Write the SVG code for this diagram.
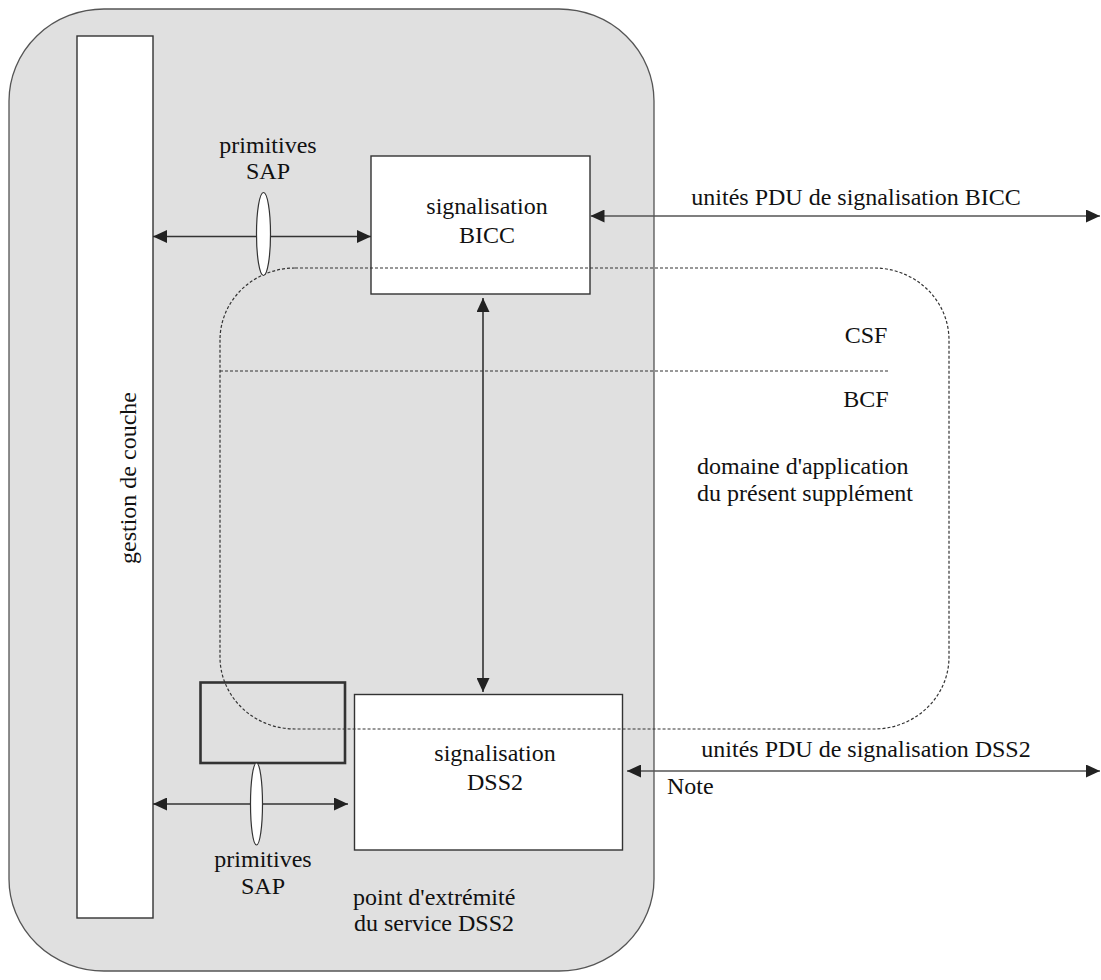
<svg xmlns="http://www.w3.org/2000/svg" width="1101" height="980" viewBox="0 0 1101 980">
<style>
text{font-family:"Liberation Serif","Times New Roman",serif;font-size:24px;fill:#111}
.box{fill:#fff;stroke:#333;stroke-width:1.4}
.dot{fill:none;stroke:#333;stroke-width:1.2;stroke-dasharray:3 2}
.conn{stroke:#333;stroke-width:1.6;fill:none}
.ext{stroke:#555;stroke-width:1.6;fill:none}
.ell{fill:#fff;stroke:#333;stroke-width:1.2}
</style>
<defs>
<marker id="ah" viewBox="0 0 14 13" refX="14" refY="6.5" markerWidth="14" markerHeight="13" markerUnits="userSpaceOnUse" orient="auto-start-reverse">
<path d="M0,0 L14,6.5 L0,13 Z" fill="#222"/>
</marker>
</defs>
<g id="domain">
<rect x="9" y="9" width="645" height="962" rx="95" ry="92" fill="#e0e0e0" stroke="#555" stroke-width="1.3"/>
</g>
<g id="gestion">
<rect class="box" x="77" y="36" width="76" height="882"/>
<text transform="translate(136,478) rotate(-90)" text-anchor="middle">gestion de couche</text>
</g>
<g id="bicc">
<rect class="box" x="371" y="156" width="219" height="138"/>
<text x="487" y="214" text-anchor="middle">signalisation</text>
<text x="487" y="243" text-anchor="middle">BICC</text>
</g>
<g id="dss2">
<rect class="box" x="354.5" y="694.5" width="268" height="155.5"/>
<text x="495" y="761" text-anchor="middle">signalisation</text>
<text x="495" y="790" text-anchor="middle">DSS2</text>
</g>
<g id="endpoint">
<rect x="200.5" y="682.5" width="144.5" height="80.5" fill="none" stroke="#333" stroke-width="2.6"/>
<text x="353" y="905">point d'extrémité</text>
<text x="354" y="931">du service DSS2</text>
</g>
<g id="scope">
<rect class="dot" x="220" y="268" width="729" height="461" rx="75" ry="72"/>
<line class="dot" x1="220" y1="371" x2="890" y2="371"/>
<text x="866" y="343" text-anchor="middle">CSF</text>
<text x="866" y="407" text-anchor="middle">BCF</text>
<text x="697" y="474">domaine d'application</text>
<text x="697" y="501">du présent supplément</text>
</g>
<g id="connectors">
<line class="conn" x1="153" y1="236.5" x2="371" y2="236.5" marker-start="url(#ah)" marker-end="url(#ah)"/>
<line class="conn" x1="153" y1="804" x2="348" y2="804" marker-start="url(#ah)" marker-end="url(#ah)"/>
<line class="conn" x1="483" y1="298" x2="483" y2="692" marker-start="url(#ah)" marker-end="url(#ah)"/>
<line class="ext" x1="590.5" y1="216" x2="1100" y2="216" marker-start="url(#ah)" marker-end="url(#ah)"/>
<line class="ext" x1="627" y1="771" x2="1100" y2="771" marker-start="url(#ah)" marker-end="url(#ah)"/>
</g>
<g id="sap-upper">
<ellipse class="ell" cx="263.5" cy="234" rx="7" ry="41.5"/>
<text x="268" y="153" text-anchor="middle">primitives</text>
<text x="268" y="179" text-anchor="middle">SAP</text>
</g>
<g id="sap-lower">
<ellipse class="ell" cx="256.5" cy="804" rx="6" ry="41"/>
<text x="263" y="867" text-anchor="middle">primitives</text>
<text x="263" y="894" text-anchor="middle">SAP</text>
</g>
<g id="labels">
<text x="856" y="205" text-anchor="middle">unités PDU de signalisation BICC</text>
<text x="866" y="757" text-anchor="middle">unités PDU de signalisation DSS2</text>
<text x="667" y="794">Note</text>
</g>
</svg>
